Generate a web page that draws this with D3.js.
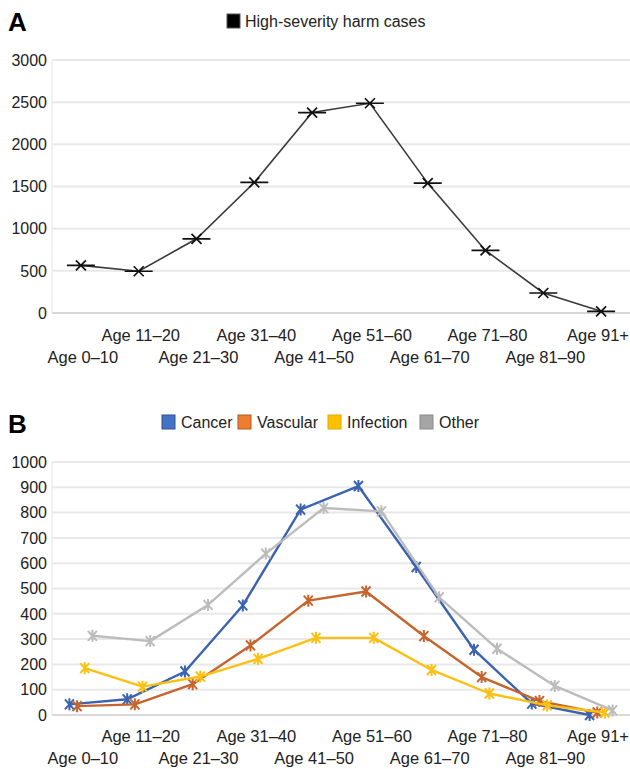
<!DOCTYPE html>
<html>
<head>
<meta charset="utf-8">
<script src="https://cdn.jsdelivr.net/npm/d3@7"></script>
<style>
  body { margin: 0; background: #fff; }
  svg { font-family: "Liberation Sans", Arial, sans-serif; }
</style>
</head>
<body>
<svg width="630" height="769"></svg>
<script>
const ageGroups = ["Age 0–10", "Age 11–20", "Age 21–30", "Age 31–40", "Age 41–50",
  "Age 51–60", "Age 61–70", "Age 71–80", "Age 81–90", "Age 91+"];

// panel A
const harmCases = [565, 495, 880, 1548, 2377, 2487, 1540, 742, 237, 20];
const ticksA = [0, 500, 1000, 1500, 2000, 2500, 3000];

// panel B
const causes = ["Cancer", "Vascular", "Infection", "Other"];
const cancer = [42, 62, 172, 433, 812, 905, 585, 258, 45, 0];
const vascular = [35, 42, 122, 275, 452, 488, 312, 150, 55, 10];
const infection = [185, 112, 152, 222, 305, 305, 178, 85, 38, 10];
const other = [313, 292, 435, 638, 818, 805, 465, 262, 115, 18];
const ticksB = [0, 100, 200, 300, 400, 500, 600, 700, 800, 900, 1000];

const lineColors = ["#3b63b0", "#c5652d", "#fbc011", "#bcbcbc"];
const swatchFill = ["#4472c4", "#ed7d31", "#ffc000", "#a5a5a5"];
const swatchStroke = ["#2f528f", "#ae5a21", "#e0a800", "#8a8a8a"];

const svg = d3.select("svg");
const left = 52, right = 630;

const x = d3.scaleBand().domain(ageGroups).range([left, right]);
const last = ageGroups.length - 1;

function drawFrame(y, ticks, labelTop) {
  const g = svg.append("g");
  g.selectAll(".grid")
    .data(ticks)
    .enter().append("line")
    .attr("x1", left).attr("x2", right)
    .attr("y1", d => y(d)).attr("y2", d => y(d))
    .attr("stroke", d => d === 0 ? "#d8d8d8" : "#e8e8e8")
    .attr("stroke-width", 2);
  g.append("line")
    .attr("x1", left).attr("x2", left)
    .attr("y1", y(ticks[ticks.length - 1])).attr("y2", y(0))
    .attr("stroke", "#ececec").attr("stroke-width", 1.5);
  g.selectAll(".ylab")
    .data(ticks)
    .enter().append("text")
    .attr("x", 47)
    .attr("y", d => y(d))
    .attr("dy", "0.36em")
    .attr("text-anchor", "end")
    .attr("font-size", 16)
    .attr("fill", "#222")
    .text(d => d);
  // last label sits against the right edge, as in the original
  g.selectAll(".xlab")
    .data(ageGroups)
    .enter().append("text")
    .attr("x", (d, i) => i === last ? right - 1 : x(d) + x.bandwidth() / 2 + 2)
    .attr("y", (d, i) => i % 2 === 1 ? labelTop : labelTop + 22)
    .attr("text-anchor", (d, i) => i === last ? "end" : "middle")
    .attr("font-size", 16.5)
    .attr("fill", "#222")
    .text(d => d);
}

// ---- Panel A ----
const yA = d3.scaleLinear().domain([0, 3000]).range([313, 60]);
drawFrame(yA, ticksA, 341);

svg.append("text").attr("x", 8).attr("y", 31)
  .attr("font-size", 26).attr("font-weight", "bold").text("A");
svg.append("rect").attr("x", 227).attr("y", 14).attr("width", 13).attr("height", 14)
  .attr("fill", "#000").attr("stroke", "#555");
svg.append("text").attr("x", 245).attr("y", 27)
  .attr("font-size", 16).attr("fill", "#222").text("High-severity harm cases");

const lineA = d3.line()
  .x((d, i) => x(ageGroups[i]) + x.bandwidth() / 2)
  .y(d => yA(d));

svg.append("path").datum(harmCases)
  .attr("d", lineA).attr("fill", "none")
  .attr("stroke", "#3a3a3a").attr("stroke-width", 1.6);

svg.selectAll(".markA")
  .data(harmCases)
  .enter().append("path")
  .attr("transform", (d, i) => `translate(${x(ageGroups[i]) + x.bandwidth() / 2},${yA(d)})`)
  .attr("d", "M-5,-5L5,5M-5,5L5,-5M-14,0L14,0")
  .attr("fill", "none")
  .attr("stroke", "#111")
  .attr("stroke-width", 1.7);

// ---- Panel B ----
const yB = d3.scaleLinear().domain([0, 1000]).range([715, 462]);
drawFrame(yB, ticksB, 742);

svg.append("text").attr("x", 8).attr("y", 433)
  .attr("font-size", 26).attr("font-weight", "bold").text("B");

const legendX = [162, 238, 328, 420];
const legend = svg.selectAll(".leg")
  .data(causes)
  .enter().append("g")
  .attr("transform", (d, i) => `translate(${legendX[i]},415)`);
legend.append("rect")
  .attr("width", 13).attr("height", 14)
  .attr("fill", (d, i) => swatchFill[i])
  .attr("stroke", (d, i) => swatchStroke[i]).attr("stroke-width", 1);
legend.append("text")
  .attr("x", 19).attr("y", 13)
  .attr("font-size", 16).attr("fill", "#222")
  .text(d => d);

const seriesB = [cancer, vascular, infection, other];
const offset = d3.scalePoint().domain(causes).range([-11.5, 11.5]);

seriesB.forEach((vals, s) => {
  const cx = i => x(ageGroups[i]) + x.bandwidth() / 2 + offset(causes[s]);
  const line = d3.line().x((d, i) => cx(i)).y(d => yB(d));
  svg.append("path").datum(vals)
    .attr("d", line).attr("fill", "none")
    .attr("stroke", lineColors[s]).attr("stroke-width", 2.4)
    .attr("stroke-linejoin", "round");
  svg.selectAll(".markB" + s)
    .data(vals)
    .enter().append("path")
    .attr("transform", (d, i) => `translate(${cx(i)},${yB(d)})`)
    .attr("d", "M-4.5,-5L4.5,5M-4.5,5L4.5,-5M0,-6L0,6")
    .attr("fill", "none")
    .attr("stroke", lineColors[s])
    .attr("stroke-width", 2);
});
</script>
</body>
</html>
